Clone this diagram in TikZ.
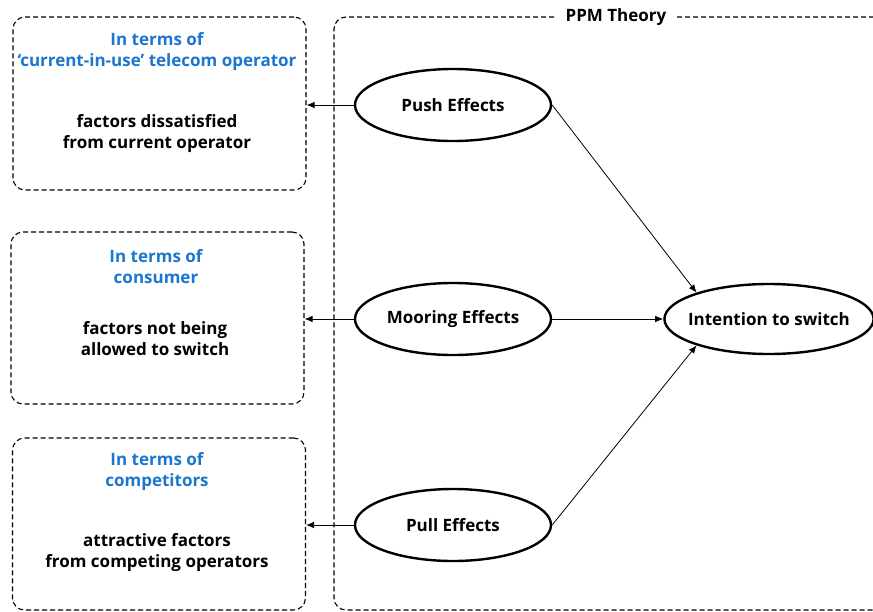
\documentclass[tikz,border=0pt]{standalone}
\usepackage{fontspec}
\setmainfont{Open Sans}
\usepackage{xcolor}
\usetikzlibrary{shapes.geometric, arrows.meta, positioning}
\definecolor{headblue}{RGB}{28,118,208}

\begin{document}
\begin{tikzpicture}[x=1pt, y=-1pt,
  txt/.style={font=\fontsize{17}{21}\selectfont\bfseries, align=center, inner sep=0pt},
  head/.style={txt, text=headblue},
  infobox/.style={draw, dash pattern=on 5pt off 3pt, line width=1.1pt, rounded corners=12pt, minimum width=293pt, inner sep=0pt},
  effect/.style={txt, draw, ellipse, line width=2.4pt, minimum width=196pt, minimum height=72pt},
  arr/.style={-{Latex[length=8pt,width=6.5pt]}, line width=0.8pt},
]
\useasboundingbox (0,0) rectangle (873,611);

\node[infobox, minimum width=560pt, minimum height=593pt] (ppm) at (614,313.5) {};
\node[txt, fill=white, inner xsep=9pt, inner ysep=2pt] (ppmlabel) at (616,17) {PPM Theory};

\node[infobox, minimum height=173pt] (cur) at (159.5,103.5) {};
\node[infobox, minimum height=172pt] (cons) at (157.5,318) {};
\node[infobox, minimum height=172pt] (comp) at (159,524) {};

\node[head] (curhead) at (157,52) {In terms of\\‘current-in-use’ telecom operator};
\node[txt] (curtext) at (157,134) {factors dissatisfied\\from current operator};
\node[head] (conshead) at (156,266.5) {In terms of\\consumer};
\node[txt] (constext) at (155,338.5) {factors not being\\allowed to switch};
\node[head] (comphead) at (157,471.5) {In terms of\\competitors};
\node[txt] (comptext) at (157,553) {attractive factors\\from competing operators};

\node[effect] (push) at (453,105) {Push Effects};
\node[effect] (moor) at (453,319) {Mooring Effects};
\node[effect] (pull) at (453,525) {Pull Effects};
\node[effect, inner xsep=-7pt, minimum width=208pt, minimum height=70pt] (intent) at (769,319) {Intention to switch};

\draw[arr] (push.west) -- (push.west -| cur.east);
\draw[arr] (moor.west) -- (moor.west -| cons.east);
\draw[arr] (pull.west) -- (pull.west -| comp.east);
\draw[arr] (push.east) -- (intent.160);
\draw[arr] (moor.east) -- (intent.west);
\draw[arr] (pull.east) -- (intent.200);
\end{tikzpicture}
\end{document}
